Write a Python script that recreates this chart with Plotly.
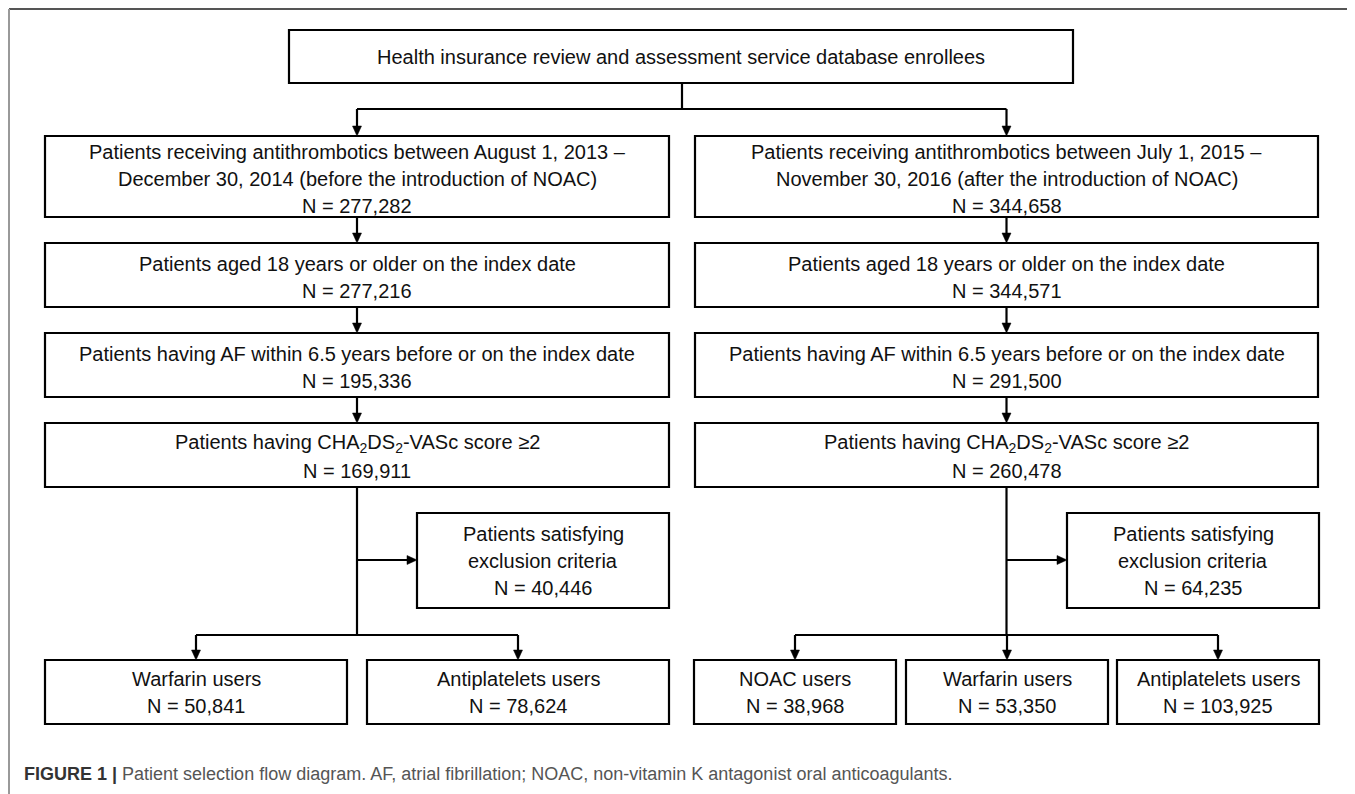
import plotly.graph_objects as go

# ---------------- data ----------------
top_label = "Health insurance review and assessment service database enrollees"

left_steps = [
    "Patients receiving antithrombotics between August 1, 2013 –<br>December 30, 2014 (before the introduction of NOAC)",
    "Patients aged 18 years or older on the index date",
    "Patients having AF within 6.5 years before or on the index date",
    "Patients having CHA<sub>2</sub>DS<sub>2</sub>-VASc score ≥2",
]
left_counts = [277282, 277216, 195336, 169911]

right_steps = [
    "Patients receiving antithrombotics between July 1, 2015 –<br>November 30, 2016 (after the introduction of NOAC)",
    "Patients aged 18 years or older on the index date",
    "Patients having AF within 6.5 years before or on the index date",
    "Patients having CHA<sub>2</sub>DS<sub>2</sub>-VASc score ≥2",
]
right_counts = [344658, 344571, 291500, 260478]

exclusion_label = "Patients satisfying<br>exclusion criteria"
exclusion_counts = [40446, 64235]

left_groups = ["Warfarin users", "Antiplatelets users"]
left_group_counts = [50841, 78624]
right_groups = ["NOAC users", "Warfarin users", "Antiplatelets users"]
right_group_counts = [38968, 53350, 103925]

caption_bold = "FIGURE 1 |"
caption_text = " Patient selection flow diagram. AF, atrial fibrillation; NOAC, non-vitamin K antagonist oral anticoagulants."

# ---------------- layout geometry ----------------
W, H = 1355, 794
OFF = 8  # page body margin in the browser
FONT = "Arial, Liberation Sans, sans-serif"
FS = 20
LINE_H = 27
LW = 2.2

shapes = []
annotations = []


def box(x0, x1, y0, y1):
    shapes.append(dict(type="rect", x0=x0, x1=x1, y0=y0, y1=y1, xref="x", yref="y",
                       line=dict(color="black", width=LW), fillcolor="rgba(0,0,0,0)"))


def seg(x0, y0, x1, y1, color="black", width=LW):
    shapes.append(dict(type="line", x0=x0, y0=y0, x1=x1, y1=y1, xref="x", yref="y",
                       line=dict(color=color, width=width)))


def arrow_down(x, y0, y1):
    seg(x, y0, x, y1 - 8)
    shapes.append(dict(type="path", xref="x", yref="y",
                       path=f"M {x-4.5},{y1-10} L {x+4.5},{y1-10} L {x},{y1} Z",
                       fillcolor="black", line=dict(color="black", width=0.5)))


def arrow_right(x0, x1, y):
    seg(x0, y, x1 - 8, y)
    shapes.append(dict(type="path", xref="x", yref="y",
                       path=f"M {x1-10},{y-4.5} L {x1-10},{y+4.5} L {x1},{y} Z",
                       fillcolor="black", line=dict(color="black", width=0.5)))


def text_lines(lines, xc, yc, size=FS):
    n = len(lines)
    for i, t in enumerate(lines):
        y = yc + (i - (n - 1) / 2) * LINE_H
        annotations.append(dict(x=xc, y=y, xref="x", yref="y", text=t, showarrow=False,
                                xanchor="center", yanchor="middle",
                                font=dict(family=FONT, size=size, color="#111")))


def box_with_text(x0, x1, y0, y1, label, count=None, dy=0):
    box(x0, x1, y0, y1)
    lines = label.split("<br>")
    if count is not None:
        lines.append(f"N = {count:,}")
    text_lines(lines, (x0 + x1) / 2, (y0 + y1) / 2 + dy)


# top box
TOP = (289, 1073, 30, 83)
box_with_text(*TOP, top_label)
cx_top = 682
seg(cx_top, 83, cx_top, 109)

columns = [
    dict(x0=45, x1=669, steps=left_steps, counts=left_counts, excl=exclusion_counts[0],
         ex0=417, ex1=669, groups=left_groups, gcounts=left_group_counts,
         gboxes=[(45, 347), (367, 669)]),
    dict(x0=695, x1=1318, steps=right_steps, counts=right_counts, excl=exclusion_counts[1],
         ex0=1067, ex1=1319, groups=right_groups, gcounts=right_group_counts,
         gboxes=[(694, 896), (906, 1108), (1117, 1319)]),
]

centers = [(c["x0"] + c["x1"]) / 2 for c in columns]
seg(centers[0], 109, centers[1], 109)

step_y = [(136, 217), (243, 307), (333, 397), (423, 487)]

for c, xc in zip(columns, centers):
    arrow_down(xc, 109, step_y[0][0])
    for i, (lab, n) in enumerate(zip(c["steps"], c["counts"])):
        y0, y1 = step_y[i]
        box_with_text(c["x0"], c["x1"], y0, y1, lab, n, dy=2)
        if i < len(step_y) - 1:
            arrow_down(xc, y1, step_y[i + 1][0])
    # main trunk
    seg(xc, step_y[-1][1], xc, 635)
    # exclusion
    box_with_text(c["ex0"], c["ex1"], 513, 608, exclusion_label, c["excl"])
    arrow_right(xc, c["ex0"], 560)
    # branches
    gx = [(a + b) / 2 for a, b in c["gboxes"]]
    seg(min(gx), 635, max(gx), 635)
    for (a, b), lab, n, g in zip(c["gboxes"], c["groups"], c["gcounts"], gx):
        arrow_down(g, 635, 660)
        box_with_text(a, b, 660, 724, lab, n)

# frame lines (top and left), kept inside the visible plotting area
seg(9, 9, W + OFF, 9, color="#555", width=2)
seg(9, 9, 9, H + OFF, color="#999", width=2)

# caption
annotations.append(dict(x=22, y=774, xref="x", yref="y", showarrow=False,
                        xanchor="left", yanchor="middle",
                        text=f"<b>{caption_bold}</b><span style='color:#555'>{caption_text}</span>",
                        font=dict(family=FONT, size=18, color="#333")))

fig = go.Figure()
fig.update_layout(
    width=W, height=H,
    margin=dict(l=0, r=0, t=0, b=0),
    paper_bgcolor="white", plot_bgcolor="white",
    xaxis=dict(range=[OFF, W + OFF], visible=False, fixedrange=True),
    yaxis=dict(range=[H + OFF, OFF], visible=False, fixedrange=True),
    shapes=shapes, annotations=annotations, showlegend=False,
)
fig.write_html("out.html")
